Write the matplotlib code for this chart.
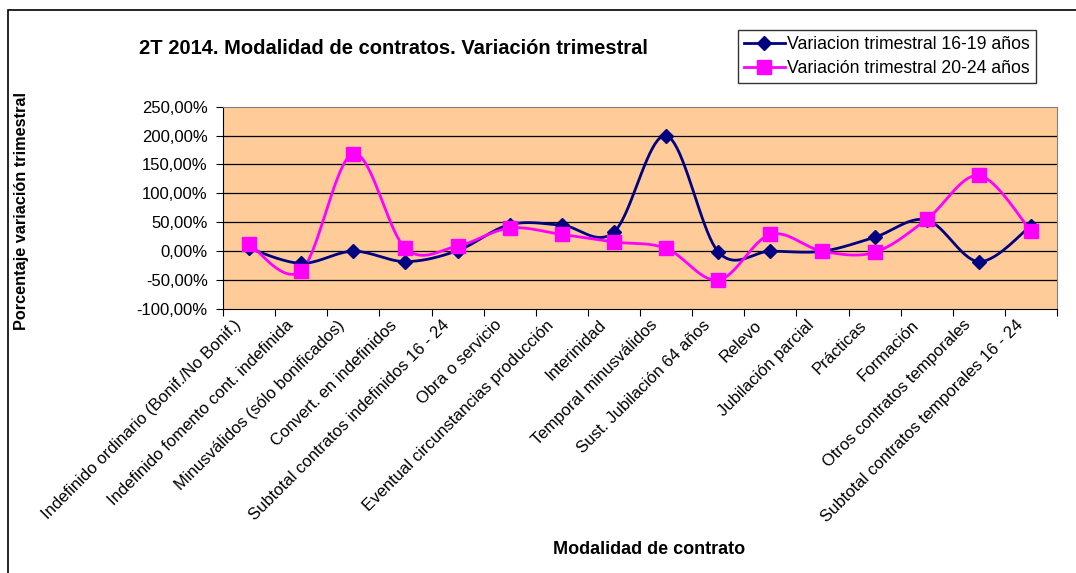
import numpy as np
import matplotlib
matplotlib.use("Agg")
import matplotlib.pyplot as plt
from matplotlib.patches import Rectangle
from matplotlib.transforms import ScaledTranslation

categories = [
    "Indefinido ordinario (Bonif./No Bonif.)",
    "Indefinido fomento cont. indefinida",
    "Minusválidos (sólo bonificados)",
    "Convert. en indefinidos",
    "Subtotal contratos indefinidos 16 - 24",
    "Obra o servicio",
    "Eventual circunstancias producción",
    "Interinidad",
    "Temporal minusválidos",
    "Sust. Jubilación 64 años",
    "Relevo",
    "Jubilación parcial",
    "Prácticas",
    "Formación",
    "Otros contratos temporales",
    "Subtotal contratos temporales 16 - 24",
]
var_16_19 = [5, -21, 0, -18, 1, 46, 45, 33, 200, -1, 0, 0, 24, 54, -18, 44]
var_20_24 = [13, -34, 169, 5, 9, 40, 29, 16, 5, -50, 29, 0, -2, 55, 131, 35]

label_16_19 = "Variacion trimestral 16-19 años"
label_20_24 = "Variación trimestral 20-24 años"
yticks = [-100, -50, 0, 50, 100, 150, 200, 250]


def smooth(x, y, n=20):
    # Catmull-Rom style smoothing, like Excel's "smoothed line"
    x = np.asarray(x, float)
    y = np.asarray(y, float)
    px = np.concatenate([[x[0]], x, [x[-1]]])
    py = np.concatenate([[y[0]], y, [y[-1]]])
    xs, ys = [], []
    t = np.linspace(0, 1, n)
    for i in range(1, len(px) - 2):
        p0 = np.array([px[i], py[i]])
        p3 = np.array([px[i + 1], py[i + 1]])
        c1 = p0 + (np.array([px[i + 1], py[i + 1]]) - np.array([px[i - 1], py[i - 1]])) / 6
        c2 = p3 - (np.array([px[i + 2], py[i + 2]]) - np.array([px[i], py[i]])) / 6
        b = ((1 - t) ** 3)[:, None] * p0 + (3 * (1 - t) ** 2 * t)[:, None] * c1 \
            + (3 * (1 - t) * t ** 2)[:, None] * c2 + (t ** 3)[:, None] * p3
        xs.extend(b[:, 0])
        ys.extend(b[:, 1])
    return xs, ys


plt.rcParams['font.family'] = ['Liberation Sans', 'DejaVu Sans']

fig = plt.figure(figsize=(10.76, 5.73), dpi=100)
fig.patches.append(Rectangle((8 / 1076, -0.1), 1.2, 1 - 10 / 573 + 0.1,
                             transform=fig.transFigure, fill=False,
                             edgecolor='black', linewidth=1.2))

ax = fig.add_axes([223 / 1076, 1 - 309 / 573, 834 / 1076, (309 - 106.7) / 573])
ax.set_facecolor('#FFCC99')

x = np.arange(len(categories))
sx, sy = smooth(x, var_16_19)
ax.plot(sx, sy, color='#000080', lw=2, zorder=3)
ax.plot(x, var_16_19, ls='none', marker='D', ms=7.5, color='#000080', zorder=4)
sx, sy = smooth(x, var_20_24)
ax.plot(sx, sy, color='#FF00FF', lw=2, zorder=3)
ax.plot(x, var_20_24, ls='none', marker='s', ms=10, color='#FF00FF', zorder=4)

ax.plot([], [], color='#000080', lw=2, marker='D', ms=7.5, label=label_16_19)
ax.plot([], [], color='#FF00FF', lw=2, marker='s', ms=10, label=label_20_24)

ax.set_xlim(-0.5, len(categories) - 0.5)
ax.set_ylim(-100, 250)
ax.set_yticks(yticks)
ax.set_yticklabels([f"{v:.2f}%".replace('.', ',') for v in yticks], fontsize=12)
ax.tick_params(axis='y', pad=6)
for v in yticks[1:-1]:
    ax.axhline(v, color='black', lw=0.9, zorder=1)

ax.set_xticks(np.arange(len(categories) + 1) - 0.5)
ax.set_xticklabels([])
ax.set_xticks(x, minor=True)
ax.set_xticklabels(categories, minor=True, rotation=45, ha='right',
                   rotation_mode='anchor', fontsize=12)
ax.tick_params(axis='x', which='minor', length=0, pad=6)
ax.tick_params(axis='both', which='major', direction='out', length=5, color='black')
shift = ScaledTranslation(-16 / 100, 0, fig.dpi_scale_trans)
for lbl in ax.get_xticklabels(minor=True):
    lbl.set_transform(lbl.get_transform() + shift)

for s in ['top', 'right']:
    ax.spines[s].set_color('#808080')
for s in ['left', 'bottom']:
    ax.spines[s].set_color('black')

fig.text(393 / 1076, 1 - 49 / 573, "2T 2014. Modalidad de contratos. Variación trimestral",
         ha='center', va='center', fontsize=14.5, fontweight='bold')
fig.text(22 / 1076, 1 - 211 / 573, "Porcentaje variación trimestral", rotation=90,
         ha='center', va='center', fontsize=11.7, fontweight='bold')
fig.text(649 / 1076, 1 - 549 / 573, "Modalidad de contrato",
         ha='center', va='center', fontsize=13, fontweight='bold')

leg = fig.legend(loc='upper left', bbox_to_anchor=(738 / 1076, 1 - 30 / 573),
                 fontsize=12.7, frameon=True, fancybox=False, edgecolor='black',
                 handlelength=2.3, borderpad=0.35, labelspacing=0.4, handletextpad=0.15,
                 borderaxespad=0)
leg.get_frame().set_linewidth(1)

fig.savefig("out.png", dpi=100)
